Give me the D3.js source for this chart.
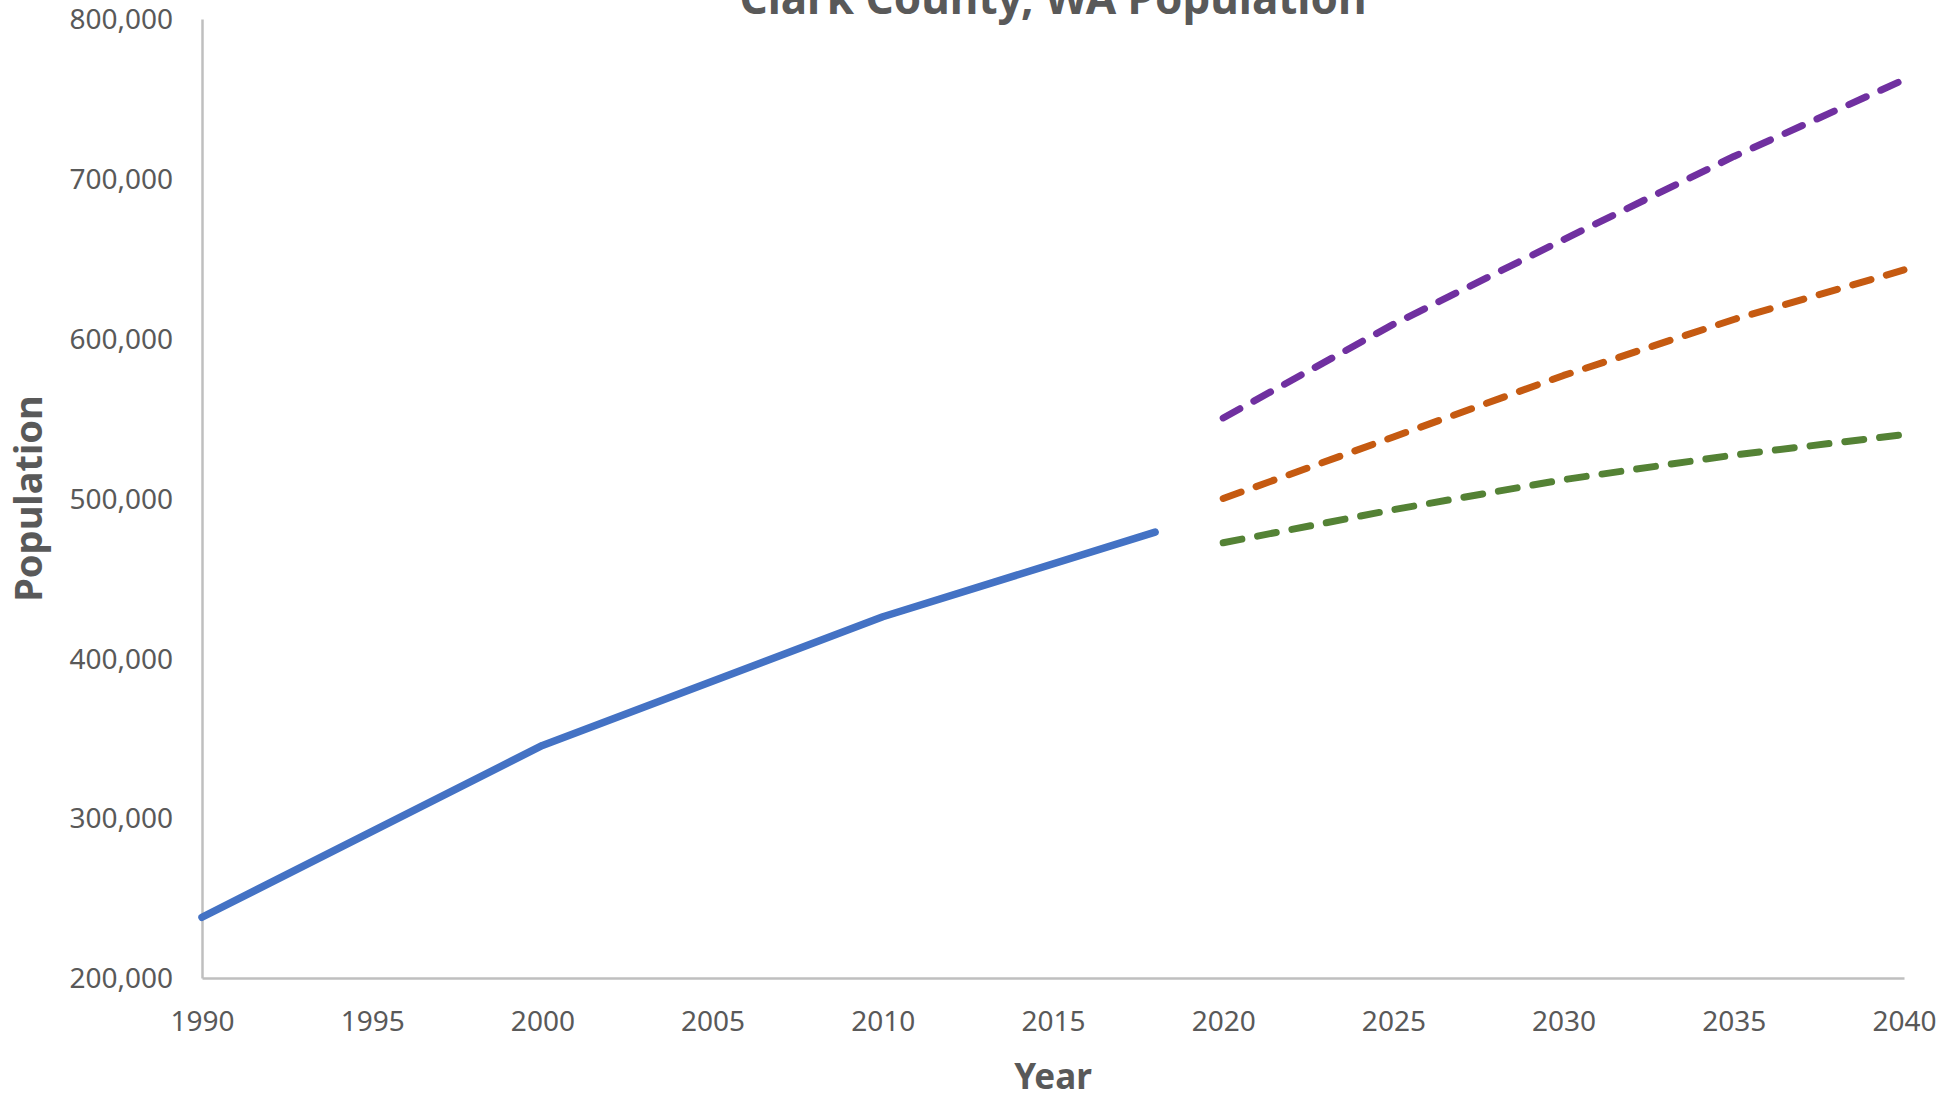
<!DOCTYPE html>
<html>
<head>
<meta charset="utf-8">
<script src="https://cdn.jsdelivr.net/npm/d3@7"></script>
<style>
  html, body { margin: 0; padding: 0; background: #ffffff; }
  svg { display: block; }
  text { font-family: "Noto Sans", "Open Sans", sans-serif; fill: #595959; }
</style>
</head>
<body>
<svg id="chart" width="1956" height="1099"></svg>
<script>
// ---- data ----
const title = "Clark County, WA Population";
const xTitle = "Year";
const yTitle = "Population";

const histYears = [1990, 2000, 2010, 2018];
const histValues = [238000, 345500, 426000, 479000];

const projYears = [2020, 2025, 2030, 2035, 2040];
const highValues = [550400, 609000, 662000, 714000, 762000];
const mediumValues = [500000, 538500, 577000, 612000, 643000];
const lowValues = [472300, 493000, 511800, 527200, 540000];

const xTicks = [1990, 1995, 2000, 2005, 2010, 2015, 2020, 2025, 2030, 2035, 2040];
const yTicks = [200000, 300000, 400000, 500000, 600000, 700000, 800000];

const seriesColors = { hist: "#4472C4", high: "#7030A0", medium: "#C55A11", low: "#548235" };

// ---- layout ----
const W = 1956, H = 1099;
const margin = { top: 19, right: 52, bottom: 121, left: 202 };
const svg = d3.select("#chart");

const x = d3.scaleLinear().domain([1990, 2040]).range([margin.left, W - margin.right]);
const y = d3.scaleLinear().domain([200000, 800000]).range([H - margin.bottom, margin.top]);

// axes
const yAxis = d3.axisLeft(y).tickValues(yTicks).tickFormat(d3.format(",")).tickSize(0).tickPadding(29);
const xAxis = d3.axisBottom(x).tickValues(xTicks).tickFormat(d3.format("d")).tickSize(0).tickPadding(43);

const gy = svg.append("g").attr("transform", `translate(${margin.left},0)`).call(yAxis);
const gx = svg.append("g").attr("transform", `translate(0,${H - margin.bottom})`).call(xAxis);

[gy, gx].forEach(g => {
  g.select(".domain").attr("stroke", "#BFBFBF").attr("stroke-width", 2.5);
  g.selectAll("text").attr("font-size", 28).attr("fill", "#595959")
    .attr("font-family", "Noto Sans, Open Sans, sans-serif");
});
gy.selectAll("text").attr("dy", "0.35em");
gx.selectAll("text").attr("dy", "0.35em");

// lines
const line = d3.line().x(d => x(d[0])).y(d => y(d[1]));

const histData = histYears.map((yr, i) => [yr, histValues[i]]);
svg.append("path").datum(histData)
  .attr("d", line).attr("fill", "none")
  .attr("stroke", seriesColors.hist).attr("stroke-width", 7.5)
  .attr("stroke-linecap", "round").attr("stroke-linejoin", "round");

const proj = [
  { key: "high", values: highValues },
  { key: "medium", values: mediumValues },
  { key: "low", values: lowValues }
];
proj.forEach(s => {
  const data = projYears.map((yr, i) => [yr, s.values[i]]);
  svg.append("path").datum(data)
    .attr("d", line).attr("fill", "none")
    .attr("stroke", seriesColors[s.key]).attr("stroke-width", 7)
    .attr("stroke-dasharray", "19 16")
    .attr("stroke-linecap", "round").attr("stroke-linejoin", "round");
});

// titles
svg.append("text")
  .attr("x", (margin.left + W - margin.right) / 2)
  .attr("y", 14)
  .attr("text-anchor", "middle")
  .attr("font-size", 44).attr("font-weight", "bold")
  .text(title);

svg.append("text")
  .attr("x", (margin.left + W - margin.right) / 2)
  .attr("y", 1089)
  .attr("text-anchor", "middle")
  .attr("font-size", 35).attr("font-weight", "bold")
  .text(xTitle);

svg.append("text")
  .attr("transform", `translate(42,${(margin.top + H - margin.bottom) / 2}) rotate(-90)`)
  .attr("text-anchor", "middle")
  .attr("font-size", 38).attr("font-weight", "bold")
  .text(yTitle);
</script>
</body>
</html>
